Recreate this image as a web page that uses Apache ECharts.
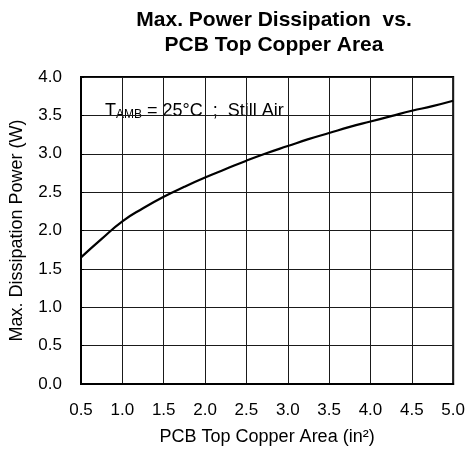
<!DOCTYPE html>
<html>
<head>
<meta charset="utf-8">
<script src="https://cdn.jsdelivr.net/npm/echarts@6/dist/echarts.min.js"></script>
<style>
html,body{margin:0;padding:0;background:#fff;}
#chart{width:468px;height:453px;}
</style>
</head>
<body>
<div id="chart"></div>
<script>
const areaIn2 = [0.5,0.75,1.0,1.25,1.5,1.75,2.0,2.25,2.5,2.75,3.0,3.25,3.5,3.75,4.0,4.25,4.5,4.75,5.0];
const powerW  = [1.65,1.89,2.12,2.29,2.44,2.57,2.69,2.80,2.91,3.01,3.10,3.19,3.27,3.35,3.42,3.49,3.56,3.62,3.69];
const titleLines = ['Max. Power Dissipation  vs.', 'PCB Top Copper Area'];
const xName = 'PCB Top Copper Area (in²)';
const yName = 'Max. Dissipation Power (W)';

const FONT = '"Liberation Sans", Arial, sans-serif';
const chart = echarts.init(document.getElementById('chart'), null, {renderer:'canvas'});
chart.setOption({
  backgroundColor:'#fff',
  animation:false,
  title:{
    text: titleLines.join('\n'),
    left: 269, top: 3, textAlign:'center',
    textStyle:{fontFamily:FONT, fontSize:21, fontWeight:'bold', color:'#000', lineHeight:25}
  },
  grid:{left:81, right:11, top:77, bottom:69, show:true, borderColor:'#000', borderWidth:2, containLabel:false},
  xAxis:{
    type:'value', min:0.5, max:5, interval:0.5,
    name:xName, nameLocation:'middle', nameGap:44,
    nameTextStyle:{fontFamily:FONT, fontSize:18, color:'#000'},
    axisLine:{show:true, lineStyle:{color:'#000', width:2}},
    axisTick:{show:false},
    axisLabel:{fontFamily:FONT, fontSize:17, color:'#000', margin:18, formatter:v=>v.toFixed(1)},
    splitLine:{show:true, lineStyle:{color:'#1a1a1a', width:1}}
  },
  yAxis:{
    type:'value', min:0, max:4, interval:0.5,
    name:yName, nameLocation:'middle', nameGap:55,
    nameTextStyle:{fontFamily:FONT, fontSize:18, color:'#000'},
    axisLine:{show:true, lineStyle:{color:'#000', width:2}},
    axisTick:{show:true, inside:true, length:3, lineStyle:{color:'#000'}},
    axisLabel:{fontFamily:FONT, fontSize:17, color:'#000', margin:19, formatter:v=>v.toFixed(1)},
    splitLine:{show:true, lineStyle:{color:'#1a1a1a', width:1}}
  },
  series:[{
    type:'line', data: areaIn2.map((x,i)=>[x, powerW[i]]),
    smooth:true, showSymbol:false,
    lineStyle:{color:'#000', width:2.2}
  }],
  graphic:[{
    type:'group', left:100, top:90, z:100,
    children:[
      {type:'rect', shape:{x:0,y:0,width:190,height:37}, style:{fill:'#fff'}},
      {type:'text', x:5, y:21, style:{
        text:'{t|T}{s|AMB}{t| = 25°C  ;  Still Air}',
        verticalAlign:'middle',
        rich:{
          t:{fontFamily:FONT, fontSize:18, fill:'#000', lineHeight:22},
          s:{fontFamily:FONT, fontSize:12, fill:'#000', lineHeight:22, padding:[8,0,0,0]}
        }
      }}
    ]
  }]
});
</script>
</body>
</html>
